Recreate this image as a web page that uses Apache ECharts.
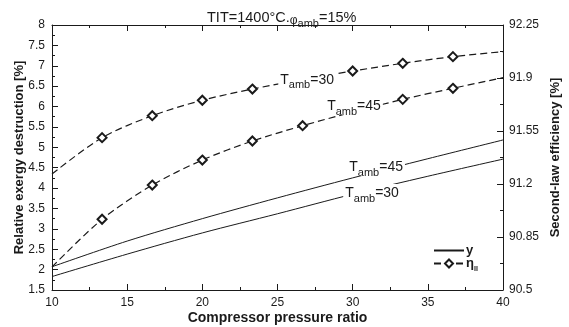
<!DOCTYPE html>
<html>
<head>
<meta charset="utf-8">
<script src="https://cdn.jsdelivr.net/npm/echarts@6/dist/echarts.min.js"></script>
<style>
html,body{margin:0;padding:0;background:#fff;}
#c{width:569px;height:327px;}
</style>
</head>
<body>
<div id="c"></div>
<script>
// ---- data ----
const pressureRatio = [10, 15, 20, 25, 30, 35, 40];
const yT30 = [1.83, 2.38, 2.90, 3.37, 3.85, 4.29, 4.71];
const yT45 = [2.07, 2.70, 3.25, 3.76, 4.25, 4.72, 5.18];
const etaRatio = [10, 13.33, 16.67, 20, 23.33, 26.67, 30, 33.33, 36.67, 40];
const etaT30 = [91.266, 91.506, 91.651, 91.753, 91.827, 91.89, 91.946, 91.997, 92.041, 92.074];
const etaT45 = [90.652, 90.967, 91.193, 91.358, 91.484, 91.585, 91.675, 91.759, 91.832, 91.902];
const xTicks = [10, 15, 20, 25, 30, 35, 40];
const leftTicks = [1.5, 2, 2.5, 3, 3.5, 4, 4.5, 5, 5.5, 6, 6.5, 7, 7.5, 8];
const rightTicks = [90.5, 90.85, 91.2, 91.55, 91.9, 92.25];
// curve annotations: [x, y, T_amb]
const lblEtaT30 = [26.97, 91.887, '30'];
const lblEtaT45 = [30.09, 91.715, '45'];
const lblYT45 = [31.56, 4.517, '45'];
const lblYT30 = [31.29, 3.88, '30'];

const FONT = "'Liberation Sans', Arial, sans-serif";
const INK = '#1a1a1a';

function pairs(xs, ys) { return xs.map((x, i) => [x, ys[i]]); }
function etaData(xs, ys, lbl) {
  return xs.map((x, i) => {
    const hide = i === 0 || i === xs.length - 1 || Math.abs(x - lbl[0]) < 1.5;
    return hide ? { value: [x, ys[i]], symbol: 'none' } : { value: [x, ys[i]] };
  });
}
const labelRich = {
  t: { fontSize: 14, fontFamily: FONT, color: INK, lineHeight: 18, verticalAlign: 'middle' },
  s: { fontSize: 11, fontFamily: FONT, color: INK, lineHeight: 18, verticalAlign: 'bottom', padding: [0, 0, -2, 0] }
};
function markLabel(lbl) {
  return {
    symbol: 'circle', symbolSize: 0, silent: true,
    itemStyle: { color: 'rgba(0,0,0,0)' },
    label: {
      show: true, position: 'inside', backgroundColor: '#fff', padding: [0, 2],
      formatter: '{t|T}{s|amb}{t|=' + lbl[2] + '}', rich: labelRich
    },
    data: [{ coord: [lbl[0], lbl[1]] }]
  };
}

const chart = echarts.init(document.getElementById('c'), null, { renderer: 'canvas' });
const tickCommon = { inside: true, length: 6, lineStyle: { color: INK, width: 1 } };
const minorCommon = { show: true, splitNumber: 2, length: 3, lineStyle: { color: INK, width: 1 } };
chart.setOption({
  animation: false,
  backgroundColor: '#fff',
  textStyle: { fontFamily: FONT },
  title: {
    text: '{n|TIT=1400°C.}{p|φ}{s|amb}{n|=15%}',
    left: 202, top: 4,
    textStyle: {
      fontWeight: 'normal',
      rich: {
        n: { fontSize: 14.5, fontWeight: 'normal', fontFamily: FONT, color: INK, lineHeight: 18 },
        p: { fontSize: 12, fontWeight: 'normal', fontFamily: FONT, color: INK, lineHeight: 18, verticalAlign: 'bottom' },
        s: { fontSize: 11, fontWeight: 'normal', fontFamily: FONT, color: INK, lineHeight: 18, verticalAlign: 'bottom', padding: [0, 0, -2, 0] }
      }
    }
  },
  grid: { left: 52, right: 66, top: 25, bottom: 37, containLabel: false, outerBoundsMode: 'none' },
  legend: {
    orient: 'vertical', left: 428, top: 239,
    itemWidth: 30, itemHeight: 10, itemGap: 0,
    data: [
      { name: 'y', itemStyle: { opacity: 0, borderWidth: 0 } },
      'eta'
    ],
    formatter: n => n === 'y' ? '{b|y}' : '{b|η}{s|II}',
    textStyle: {
      padding: [0, 0, 0, -3],
      rich: {
        b: { fontSize: 13, fontWeight: 'bold', fontFamily: FONT, color: INK, lineHeight: 12 },
        s: { fontSize: 7, fontWeight: 'bold', fontFamily: FONT, color: INK, lineHeight: 12, verticalAlign: 'bottom', padding: [0, 0, -3, 0] }
      }
    }
  },
  xAxis: [{
    type: 'value', min: xTicks[0], max: xTicks[xTicks.length - 1], interval: xTicks[1] - xTicks[0],
    name: 'Compressor pressure ratio', nameLocation: 'middle', nameGap: 21, nameMoveOverlap: false,
    nameTextStyle: { fontSize: 14, fontWeight: 'bold', color: INK, fontFamily: FONT },
    axisLine: { lineStyle: { color: INK, width: 1 } },
    axisTick: tickCommon, minorTick: minorCommon,
    axisLabel: { color: INK, fontSize: 12, margin: 7, fontFamily: FONT },
    splitLine: { show: false }
  }, {
    type: 'value', position: 'top', min: xTicks[0], max: xTicks[xTicks.length - 1], interval: xTicks[1] - xTicks[0],
    axisLine: { show: true, lineStyle: { color: INK, width: 1 } },
    axisTick: tickCommon, minorTick: minorCommon,
    axisLabel: { show: false }, splitLine: { show: false }
  }],
  yAxis: [{
    type: 'value', min: leftTicks[0], max: leftTicks[leftTicks.length - 1], interval: leftTicks[1] - leftTicks[0],
    name: 'Relative exergy destruction [%]', nameLocation: 'middle', nameGap: 26, nameRotate: 90, nameMoveOverlap: false,
    nameTextStyle: { fontSize: 13, fontWeight: 'bold', color: INK, fontFamily: FONT },
    axisLine: { show: true, lineStyle: { color: INK, width: 1 } },
    axisTick: tickCommon, minorTick: minorCommon,
    axisLabel: { color: INK, fontSize: 12, margin: 7, fontFamily: FONT },
    splitLine: { show: false }
  }, {
    type: 'value', position: 'right',
    min: rightTicks[0], max: rightTicks[rightTicks.length - 1], interval: 0.35,
    name: 'Second-law efficiency [%]', nameLocation: 'middle', nameGap: 46, nameRotate: 90, nameMoveOverlap: false,
    nameTextStyle: { fontSize: 13, fontWeight: 'bold', color: INK, fontFamily: FONT },
    axisLine: { show: true, lineStyle: { color: INK, width: 1 } },
    axisTick: tickCommon, minorTick: minorCommon,
    axisLabel: { color: INK, fontSize: 12, margin: 6, fontFamily: FONT, formatter: v => String(+v.toFixed(2)) },
    splitLine: { show: false }
  }],
  series: [
    {
      name: 'y', type: 'line', xAxisIndex: 0, yAxisIndex: 0, smooth: 0.3, symbol: 'none',
      lineStyle: { color: INK, width: 1 }, itemStyle: { color: INK },
      data: pairs(pressureRatio, yT30), markPoint: markLabel(lblYT30)
    },
    {
      name: 'y', type: 'line', xAxisIndex: 0, yAxisIndex: 0, smooth: 0.3, symbol: 'none',
      lineStyle: { color: INK, width: 1 }, itemStyle: { color: INK },
      data: pairs(pressureRatio, yT45), markPoint: markLabel(lblYT45)
    },
    {
      name: 'eta', type: 'line', xAxisIndex: 0, yAxisIndex: 1, smooth: 0.3,
      symbol: 'emptyDiamond', symbolSize: 9, showAllSymbol: true,
      lineStyle: { color: INK, width: 1.2, type: [7, 4] }, itemStyle: { color: INK, borderWidth: 1.3 },
      data: etaData(etaRatio, etaT30, lblEtaT30), markPoint: markLabel(lblEtaT30)
    },
    {
      name: 'eta', type: 'line', xAxisIndex: 0, yAxisIndex: 1, smooth: 0.3,
      symbol: 'emptyDiamond', symbolSize: 9, showAllSymbol: true,
      lineStyle: { color: INK, width: 1.2, type: [7, 4] }, itemStyle: { color: INK, borderWidth: 1.3 },
      data: etaData(etaRatio, etaT45, lblEtaT45), markPoint: markLabel(lblEtaT45)
    }
  ]
});
</script>
</body>
</html>
